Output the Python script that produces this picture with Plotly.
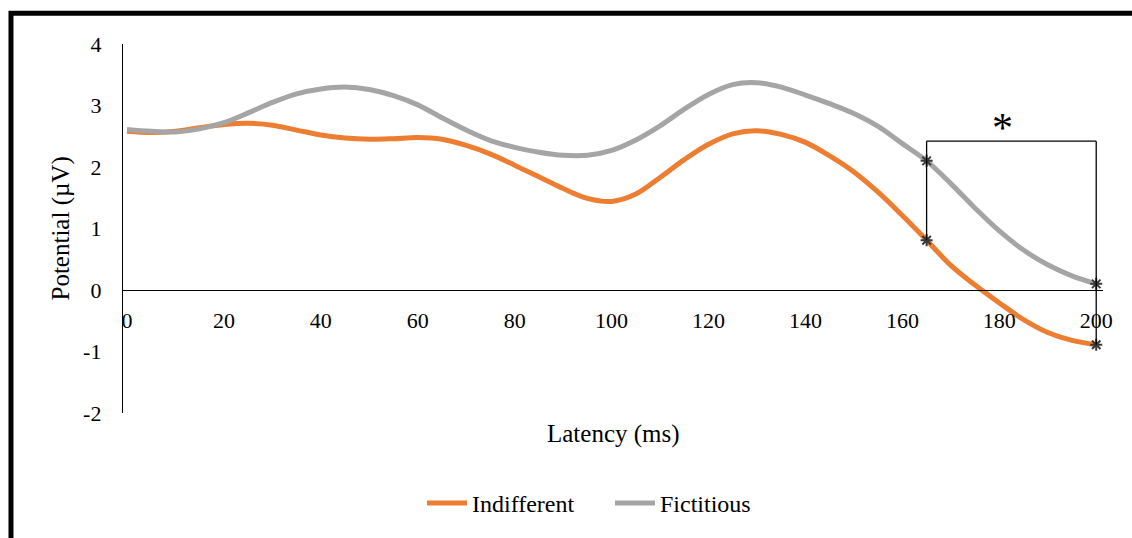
import plotly.graph_objects as go

latency = list(range(0, 201, 5))
indifferent = [2.58, 2.56, 2.58, 2.64, 2.69, 2.71, 2.68, 2.60, 2.52, 2.47,
               2.45, 2.46, 2.48, 2.45, 2.35, 2.21, 2.03, 1.84, 1.65, 1.49,
               1.44, 1.56, 1.83, 2.12, 2.37, 2.54, 2.59, 2.53, 2.40, 2.18,
               1.92, 1.59, 1.21, 0.81, 0.40, 0.08, -0.21, -0.48, -0.69, -0.82,
               -0.89]
fictitious = [2.61, 2.58, 2.57, 2.62, 2.72, 2.88, 3.05, 3.19, 3.27, 3.30,
              3.26, 3.16, 3.01, 2.80, 2.60, 2.43, 2.32, 2.24, 2.19, 2.19,
              2.27, 2.44, 2.67, 2.94, 3.18, 3.34, 3.37, 3.30, 3.17, 3.03,
              2.87, 2.66, 2.38, 2.10, 1.73, 1.33, 0.96, 0.65, 0.41, 0.23,
              0.10]
y_ticks = [4, 3, 2, 1, 0, -1, -2]
x_ticks = list(range(0, 201, 20))
sig_start, sig_end = 165, 200
bracket_top = 2.42
sig_label = "*"

ORANGE = "#ED7D31"
GRAY = "#A5A5A5"
FONT = "Liberation Serif"

fig = go.Figure()
fig.add_trace(go.Scatter(x=latency, y=indifferent, mode="lines", name="Indifferent",
                         line=dict(color=ORANGE, width=5, shape="spline", smoothing=1)))
fig.add_trace(go.Scatter(x=latency, y=fictitious, mode="lines", name="Fictitious",
                         line=dict(color=GRAY, width=5, shape="spline", smoothing=1)))

i0 = latency.index(sig_start)
i1 = latency.index(sig_end)
star_x = [sig_start, sig_start, sig_end, sig_end]
star_y = [fictitious[i0], indifferent[i0], fictitious[i1], indifferent[i1]]
fig.add_trace(go.Scatter(x=star_x, y=star_y, mode="markers", showlegend=False,
                         marker=dict(symbol="asterisk", size=10,
                                     line=dict(color="#3a3a3a", width=2))))

# significance bracket
line_style = dict(color="black", width=1.3)
fig.add_shape(type="line", x0=sig_start, x1=sig_start, y0=indifferent[i0], y1=bracket_top,
              line=line_style)
fig.add_shape(type="line", x0=sig_start, x1=sig_end, y0=bracket_top, y1=bracket_top,
              line=line_style)
fig.add_shape(type="line", x0=sig_end, x1=sig_end, y0=indifferent[i1], y1=bracket_top,
              line=line_style)
fig.add_annotation(x=(sig_start + sig_end) / 2, y=bracket_top, text=sig_label,
                   showarrow=False, yanchor="bottom", yshift=-12, xshift=-9,
                   font=dict(family=FONT, size=42, color="black"))

# outer chart border (extends past the visible area on right/bottom)
fig.add_shape(type="rect", xref="paper", yref="paper",
              x0=-0.1143, x1=1.2, y0=-0.4, y1=1.0833,
              line=dict(color="black", width=5), fillcolor="rgba(0,0,0,0)", layer="above")

fig.update_layout(
    width=1132, height=538,
    margin=dict(l=123, r=29, t=44, b=122),
    paper_bgcolor="white", plot_bgcolor="white",
    font=dict(family=FONT, size=22, color="black"),
    showlegend=True,
    legend=dict(orientation="h", x=(422 - 123) / 980, xanchor="left", y=-0.245, yanchor="middle",
                font=dict(family=FONT, size=24, color="black"),
                itemwidth=40, tracegroupgap=0, entrywidth=133),
    xaxis=dict(range=[-0.83, 201.4], tickvals=x_ticks, ticktext=[str(v) for v in x_ticks],
               showgrid=False, zeroline=False, showline=True, linecolor="black", linewidth=1.3,
               anchor="free", position=(0 - (-2)) / 6, ticks="", ticklabelstandoff=10,
               tickfont=dict(family=FONT, size=22, color="black")),
    yaxis=dict(range=[-2, 4], tickvals=y_ticks, ticktext=[str(v) for v in y_ticks],
               showgrid=False, zeroline=False, showline=True, linecolor="black", linewidth=1.3,
               ticks="", ticklabelstandoff=16,
               tickfont=dict(family=FONT, size=22, color="black")),
)
fig.add_annotation(xref="paper", yref="paper", x=(613 - 123) / 980, y=(416 - 437) / 372,
                   text="Latency (ms)", showarrow=False, xanchor="center", yanchor="middle",
                   font=dict(family=FONT, size=25, color="black"))
fig.add_annotation(xref="paper", yref="paper", x=(60 - 123) / 980, y=(416 - 230) / 372,
                   text="Potential (µV)", showarrow=False, textangle=-90,
                   xanchor="center", yanchor="middle",
                   font=dict(family=FONT, size=25, color="black"))

fig.write_html("out.html")
